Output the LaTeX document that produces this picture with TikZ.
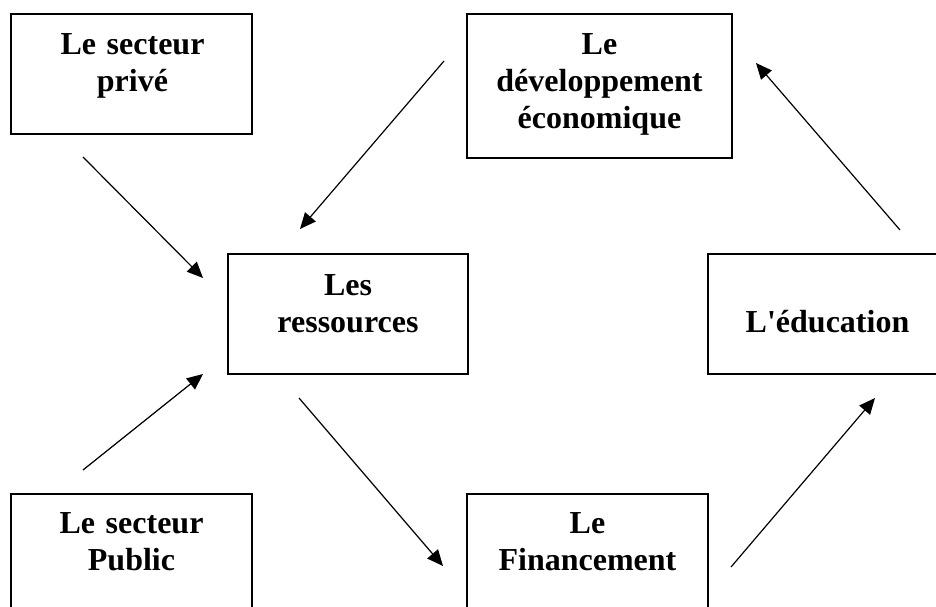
\documentclass[tikz,border=0pt]{standalone}
\usepackage{fontspec}
\setmainfont{Liberation Serif}
\usetikzlibrary{arrows.meta}
\begin{document}
\begin{tikzpicture}[x=1pt,y=-1pt,
  boxshape/.style={draw, line width=1.2pt, inner sep=0pt, minimum height=120pt},
  lbl/.style={font=\bfseries\fontsize{32}{37}\selectfont, text width=260pt, align=center, anchor=base, inner sep=0pt},
  flow/.style={-{Triangle[length=16pt,width=14pt]}, line width=1.2pt}]
\useasboundingbox (0,0) rectangle (936,607);
\clip (0,0) rectangle (936,607);
% boxes
\node[boxshape, minimum width=241pt] (prive) at (131.5,74) {};
\node[boxshape, minimum width=265pt, minimum height=144pt] (devel) at (599.5,86) {};
\node[boxshape, minimum width=240pt] (ress) at (348,314) {};
\node[boxshape, minimum width=239pt] (educ) at (827.5,314) {};
\node[boxshape, minimum width=241pt] (public) at (131.5,554) {};
\node[boxshape, minimum width=241pt] (fin) at (587.5,554) {};
% texts
\node[lbl] (tprive) at (132.5,55) {Le secteur\\privé};
\node[lbl] (tdevel) at (599.5,55) {Le\\développement\\économique};
\node[lbl] (tress) at (348,295) {Les\\ressources};
\node[lbl] (teduc) at (827.5,332) {L\textquotesingle éducation};
\node[lbl] (tpublic) at (131.5,533) {Le secteur\\Public};
\node[lbl] (tfin) at (587.5,533) {Le\\Financement};
% arrow end points
\coordinate (a1s) at (83,157);  \coordinate (a1e) at (203,278);
\coordinate (a2s) at (444,61);  \coordinate (a2e) at (300,229);
\coordinate (a3s) at (83,470);  \coordinate (a3e) at (203,374);
\coordinate (a4s) at (299,398); \coordinate (a4e) at (443,566);
\coordinate (a5s) at (731,567); \coordinate (a5e) at (875,398);
\coordinate (a6s) at (900,230); \coordinate (a6e) at (756,63);
\draw[flow] (a1s) -- (a1e);
\draw[flow] (a2s) -- (a2e);
\draw[flow] (a3s) -- (a3e);
\draw[flow] (a4s) -- (a4e);
\draw[flow] (a5s) -- (a5e);
\draw[flow] (a6s) -- (a6e);
\end{tikzpicture}
\end{document}
